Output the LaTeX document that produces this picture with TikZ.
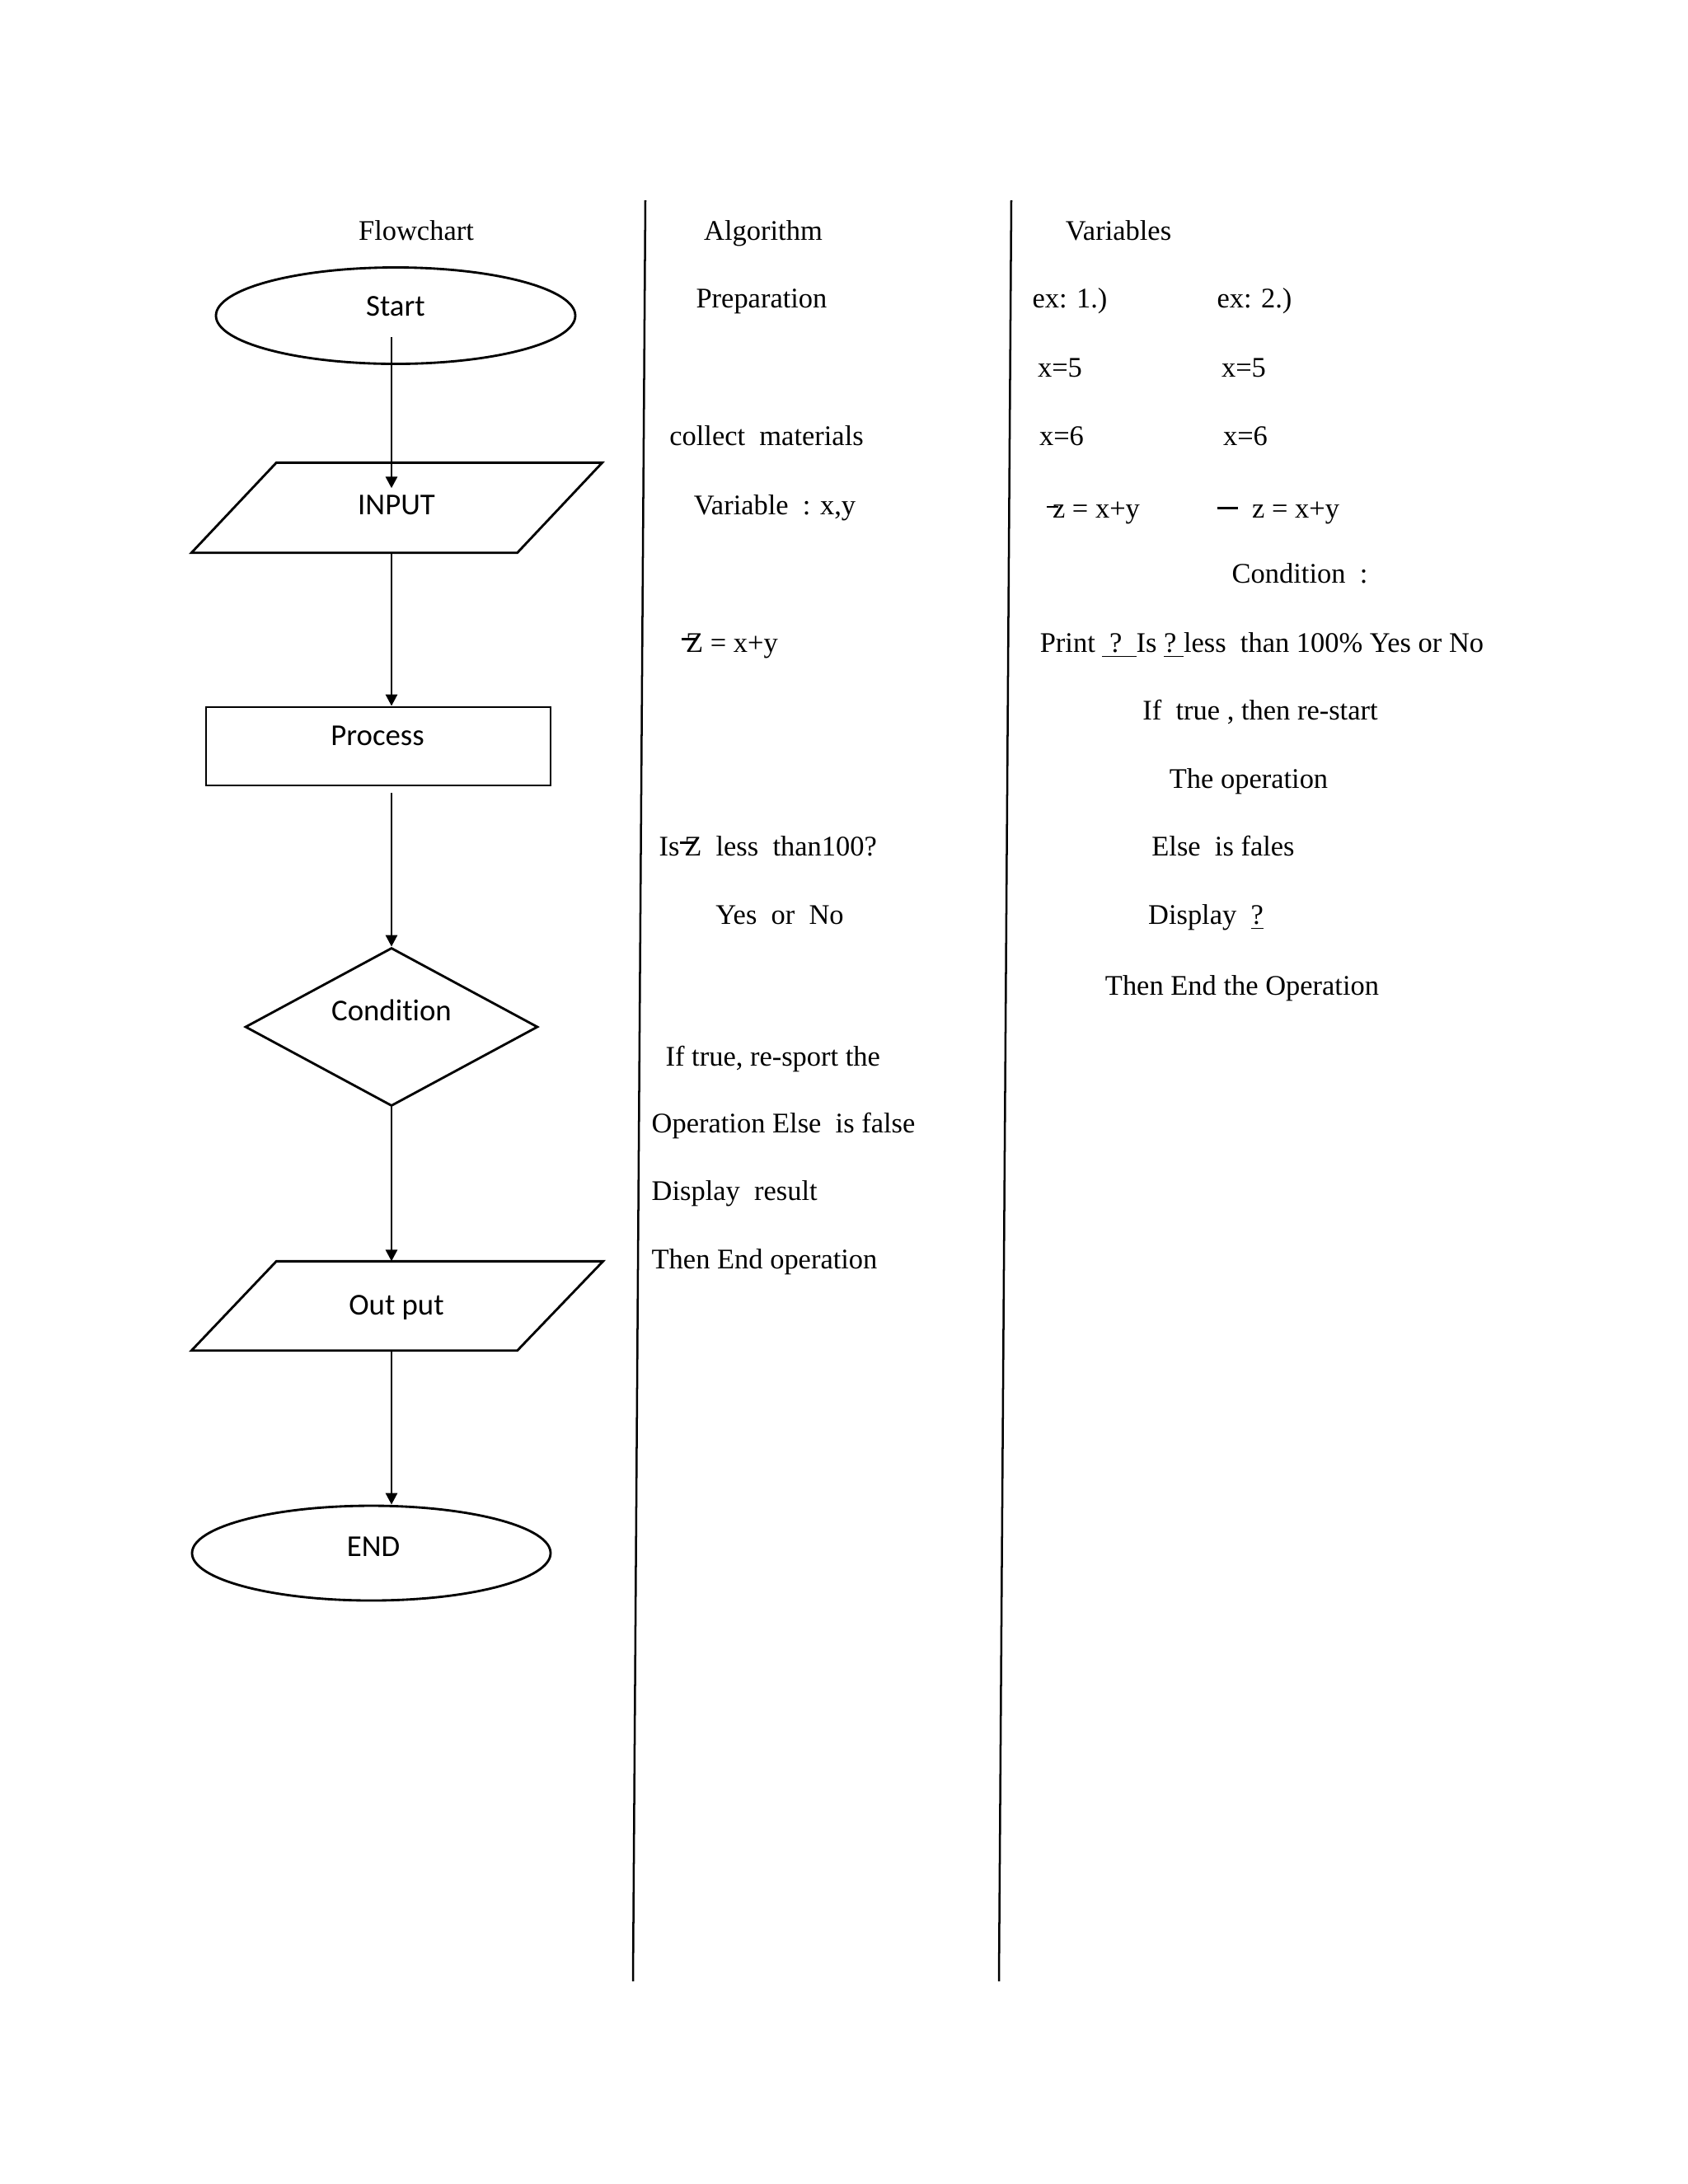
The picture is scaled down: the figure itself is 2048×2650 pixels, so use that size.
\documentclass[tikz,border=0pt]{standalone}
\usepackage{fontspec}
\setmainfont{Liberation Serif}
\newfontfamily\calfont[Ligatures=NoCommon]{Carlito}
\usetikzlibrary{shapes.geometric,arrows.meta,calc}
\newcommand\pxu{0.29883pt}
% struck letters
\newcommand\strkZ{\makebox[0pt][l]{\kern-1.6pt\rule[4.4pt]{5.8pt}{0.8pt}}Z}
\newcommand\strkz{\makebox[0pt][l]{\kern-2pt\rule[3.6pt]{4.2pt}{0.8pt}}z}
\newcommand\thickdash{\rule[3.2pt]{7.5pt}{0.9pt}}
\begin{document}
\begin{tikzpicture}[x=0.29883pt,y=-0.29883pt,
  shp/.style={draw, line width=0.85pt, inner sep=0pt},
  box/.style={inner sep=0pt, draw=none},
  lbl/.style={font=\calfont\fontsize{11}{13}\selectfont, inner sep=0pt, text height=7.1pt, text depth=0pt},
  txt/.style={font=\fontsize{10.3}{12}\selectfont, inner sep=0pt, text height=6.8pt, text depth=0pt},
  arr/.style={line width=0.85pt, -{Triangle[length=4.2pt,width=4.2pt]}},
  divider/.style={line width=0.75pt}]
\useasboundingbox (0,0) rectangle (2048,2650);
\fill[white] (0,0) rectangle (2048,2650);

% flowchart shapes
\node[shp, ellipse, minimum width=436*\pxu, minimum height=117*\pxu] (start) at (480,383) {};
\node[box, minimum width=497*\pxu, minimum height=108*\pxu] (input) at (481.5,616) {};
\draw[shp] ($(input.north west)+(103,0)$) -- (input.north east) -- ($(input.south east)+(-103,0)$) -- (input.south west) -- cycle;
\node[shp, rectangle, minimum width=418*\pxu, minimum height=95*\pxu] (proc) at (459,905.5) {};
\node[shp, diamond, minimum width=355*\pxu, minimum height=192*\pxu] (cond) at (475,1246) {};
\node[box, minimum width=498*\pxu, minimum height=107*\pxu] (outp) at (482,1584.5) {};
\draw[shp] ($(outp.north west)+(103,0)$) -- (outp.north east) -- ($(outp.south east)+(-104,0)$) -- (outp.south west) -- cycle;
\node[shp, ellipse, minimum width=435*\pxu, minimum height=115*\pxu] (endn) at (450.5,1884.5) {};

% shape labels
\node[lbl] (startt) at (480,372) {Start};
\node[lbl] (inputt) at (481,613) {INPUT};
\node[lbl] (proct) at (458,893) {Process};
\node[lbl] (condt) at (475,1227) {Condition};
\node[lbl] (outpt) at (481,1584) {Out put};
\node[lbl] (endt) at (453,1877) {END};

% connectors
\draw[arr] ($(start.south -| cond.north)+(0,-34)$) -- ($(input.north -| cond.north)+(0,31)$);
\draw[arr] (input.south -| cond.north) -- (proc.north -| cond.north);
\draw[arr] ($(proc.south -| cond.north)+(0,8)$) -- (cond.north);
\draw[arr] (cond.south) -- (outp.north -| cond.south);
\draw[arr] (outp.south -| cond.south) -- (endn.north -| cond.south);

% column dividers
\coordinate (d1t) at (783,243);
\coordinate (d1b) at (768,2404);
\coordinate (d2t) at (1227,243);
\coordinate (d2b) at (1212,2404);
\draw[divider] (d1t) -- (d1b);
\draw[divider] (d2t) -- (d2b);

% headers
\node[txt] (hflow) at (505,280) {Flowchart};
\node[txt] (halgo) at (926,280) {Algorithm};
\node[txt] (hvar) at (1357,280) {Variables};

% algorithm column
\node[txt] (prep) at (924,362) {Preparation};
\node[txt] (coll) at (930,529) {collect\ \ materials};
\node[txt] (varxy) at (940,613) {Variable\ \ : x,y};
\node[txt] (zalg) at (888,780) {\strkZ\ = x+y};
\node[txt, anchor=west] (isz) at (799,1027) {Is\,\strkZ\ \ less\ \ than100?};
\node[txt] (yesno) at (946,1110) {Yes\ \ or\ \ No};
\node[txt, anchor=west] (iftr) at (807,1282) {If true, re-sport the};
\node[txt, anchor=west] (opel) at (790,1363) {Operation Else\ \ is false};
\node[txt, anchor=west] (dres) at (790,1445) {Display\ \ result};
\node[txt, anchor=west] (tend) at (790,1528) {Then End operation};

% variables column
\node[txt] (ex1) at (1298,362) {ex: 1.)};
\node[txt] (ex2) at (1522,362) {ex: 2.)};
\node[txt] (x5a) at (1286,446) {x=5};
\node[txt] (x5b) at (1509,446) {x=5};
\node[txt] (x6a) at (1288,529) {x=6};
\node[txt] (x6b) at (1511,529) {x=6};
\node[txt] (zxya) at (1330,617) {\strkz\ = x+y};
\node[txt] (zxyb) at (1551,617) {\thickdash\ \ z = x+y};
\node[txt] (condc) at (1577,696) {Condition\ \ :};
\node[txt] (print) at (1531,780) {Print \underline{\ ?\ \ }Is \underline{?\ }less\ \ than 100\% Yes or No};
\node[txt] (iftrue) at (1529,862) {If\ \ true , then re-start};
\node[txt] (theop) at (1515,945) {The operation};
\node[txt] (elsef) at (1484,1027) {Else\ \ is fales};
\node[txt] (disp) at (1463,1110) {Display\ \ \underline{?}};
\node[txt] (thenend) at (1507,1196) {Then End the Operation};
\end{tikzpicture}
\end{document}
